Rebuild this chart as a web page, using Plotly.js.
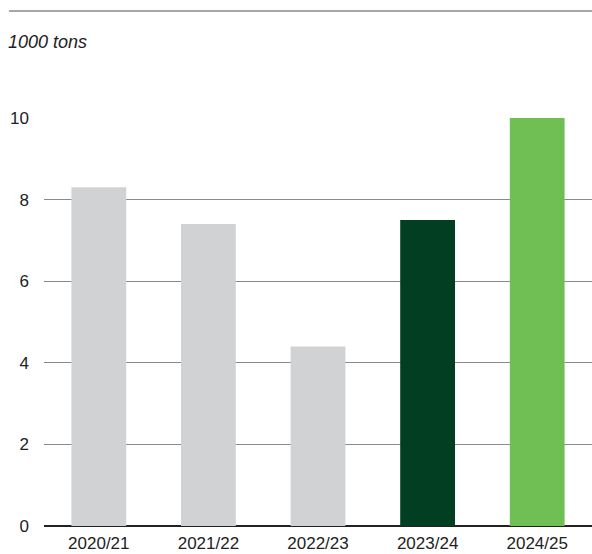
<!DOCTYPE html>
<html>
<head>
<meta charset="utf-8">
<script src="https://cdn.plot.ly/plotly-3.0.1.min.js"></script>
<style>html,body{margin:0;padding:0;background:#fff;}#chart{width:592px;height:554px;}</style>
</head>
<body>
<div id="chart"></div>
<script>
const categories = ["2020/21", "2021/22", "2022/23", "2023/24", "2024/25"];
const values = [8.3, 7.4, 4.4, 7.5, 10.0];
const barColors = ["#d1d2d4", "#d1d2d4", "#d1d2d4", "#023f22", "#70bf54"];
const yTicks = [0, 2, 4, 6, 8, 10];
const unitLabel = "1000 tons";

const W = 592, H = 554;
const m = {l: 44, r: 0, t: 118, b: 28};
const pw = W - m.l - m.r, ph = H - m.t - m.b;

const trace = {
  type: "bar",
  x: categories,
  y: values,
  marker: {color: barColors, line: {width: 0}},
  hoverinfo: "skip"
};

const layout = {
  width: W, height: H,
  margin: m,
  paper_bgcolor: "#fff",
  plot_bgcolor: "#fff",
  showlegend: false,
  bargap: 0.5,
  font: {family: "Liberation Sans, Arial, sans-serif", size: 17, color: "#222"},
  title: {
    text: "<i>" + unitLabel + "</i>",
    x: 8 / W, xanchor: "left", xref: "container",
    y: 1 - 42 / H, yanchor: "middle", yref: "container",
    font: {family: "Liberation Sans, Arial, sans-serif", size: 18, color: "#222"}
  },
  xaxis: {
    type: "category",
    showgrid: false,
    showline: false,
    zeroline: false,
    ticks: "",
    ticklabelstandoff: 5,
    tickfont: {size: 17, color: "#222"}
  },
  yaxis: {
    range: [0, 10],
    tickvals: yTicks,
    ticktext: yTicks.map(String),
    showgrid: true,
    gridcolor: "#8a8a8a",
    gridwidth: 1,
    zeroline: true,
    zerolinecolor: "#222",
    zerolinewidth: 1.5,
    showline: false,
    ticks: "",
    ticklabelstandoff: 14,
    tickfont: {size: 17, color: "#222"},
    layer: "below traces"
  },
  shapes: [{
    type: "line", xref: "paper", yref: "paper",
    x0: (9 - m.l) / pw, x1: 1,
    y0: (H - m.b - 11) / ph, y1: (H - m.b - 11) / ph,
    line: {color: "#8a8a8a", width: 1.5}
  }]
};

Plotly.newPlot("chart", [trace], layout, {displayModeBar: false, staticPlot: true});
</script>
</body>
</html>
